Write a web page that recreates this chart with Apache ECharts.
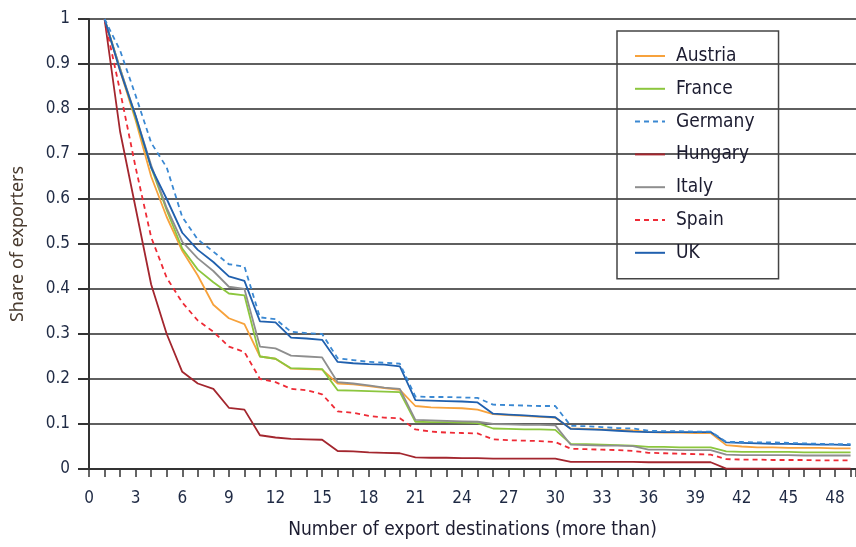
<!DOCTYPE html>
<html>
<head>
<meta charset="utf-8">
<script src="https://cdn.jsdelivr.net/npm/echarts@6/dist/echarts.min.js"></script>
<style>
  html, body { margin: 0; padding: 0; background: #fff; }
  #main { width: 856px; height: 547px; }
</style>
</head>
<body>
<div id="main"></div>
<script>
    // number of export destinations (more than)
    var destinations = [1, 2, 3, 4, 5, 6, 7, 8, 9, 10, 11, 12, 13, 14, 15, 16, 17, 18, 19, 20,
        21, 22, 23, 24, 25, 26, 27, 28, 29, 30, 31, 32, 33, 34, 35, 36, 37, 38, 39, 40,
        41, 42, 43, 44, 45, 46, 47, 48, 49];

    // share of exporters
    var austria = [1, 0.885, 0.775, 0.65, 0.56, 0.485, 0.43, 0.365, 0.335, 0.322,
        0.25, 0.245, 0.223, 0.222, 0.221, 0.19, 0.188, 0.184, 0.18, 0.176,
        0.14, 0.137, 0.136, 0.135, 0.132, 0.122, 0.12, 0.118, 0.116, 0.114,
        0.09, 0.089, 0.088, 0.087, 0.086, 0.082, 0.081, 0.081, 0.08, 0.08,
        0.053, 0.05, 0.048, 0.048, 0.047, 0.047, 0.047, 0.046, 0.046];
    var france = [1, 0.89, 0.78, 0.67, 0.575, 0.49, 0.443, 0.415, 0.39, 0.386,
        0.25, 0.245, 0.224, 0.223, 0.222, 0.175, 0.174, 0.173, 0.172, 0.171,
        0.105, 0.104, 0.104, 0.103, 0.102, 0.09, 0.089, 0.088, 0.088, 0.087,
        0.056, 0.055, 0.054, 0.053, 0.052, 0.049, 0.049, 0.048, 0.048, 0.048,
        0.039, 0.038, 0.038, 0.038, 0.038, 0.037, 0.037, 0.037, 0.037];
    var germany = [1, 0.93, 0.83, 0.725, 0.67, 0.56, 0.51, 0.483, 0.455, 0.45,
        0.337, 0.333, 0.305, 0.302, 0.3, 0.246, 0.242, 0.238, 0.236, 0.234,
        0.161, 0.16, 0.16, 0.159, 0.158, 0.143, 0.142, 0.141, 0.14, 0.14,
        0.096, 0.095, 0.093, 0.091, 0.09, 0.085, 0.084, 0.084, 0.083, 0.083,
        0.06, 0.06, 0.059, 0.059, 0.058, 0.057, 0.056, 0.055, 0.055];
    var hungary = [1, 0.75, 0.58, 0.41, 0.3, 0.216, 0.19, 0.178, 0.136, 0.132,
        0.075, 0.07, 0.067, 0.066, 0.065, 0.04, 0.039, 0.037, 0.036, 0.035,
        0.026, 0.025, 0.025, 0.024, 0.024, 0.023, 0.023, 0.023, 0.023, 0.023,
        0.016, 0.016, 0.016, 0.016, 0.016, 0.015, 0.015, 0.015, 0.015, 0.015,
        0.001, 0.001, 0.001, 0.001, 0.001, 0.001, 0.001, 0.001, 0.001];
    var italy = [1, 0.89, 0.785, 0.675, 0.58, 0.505, 0.468, 0.44, 0.405, 0.4,
        0.272, 0.268, 0.252, 0.25, 0.248, 0.193, 0.19, 0.186, 0.181, 0.178,
        0.109, 0.108, 0.107, 0.106, 0.105, 0.1, 0.099, 0.098, 0.098, 0.097,
        0.054, 0.053, 0.052, 0.052, 0.051, 0.043, 0.043, 0.042, 0.042, 0.042,
        0.032, 0.031, 0.031, 0.031, 0.031, 0.03, 0.03, 0.03, 0.03];
    var spain = [1, 0.84, 0.67, 0.515, 0.425, 0.37, 0.33, 0.305, 0.272, 0.26,
        0.2, 0.193, 0.178, 0.175, 0.166, 0.128, 0.125, 0.118, 0.114, 0.113,
        0.088, 0.083, 0.081, 0.08, 0.079, 0.066, 0.064, 0.063, 0.062, 0.06,
        0.045, 0.044, 0.043, 0.042, 0.04, 0.036, 0.035, 0.034, 0.033, 0.032,
        0.022, 0.021, 0.021, 0.02, 0.02, 0.02, 0.019, 0.019, 0.019];
    var uk = [1, 0.885, 0.785, 0.67, 0.6, 0.525, 0.487, 0.46, 0.428, 0.418,
        0.328, 0.326, 0.292, 0.29, 0.287, 0.238, 0.235, 0.233, 0.232, 0.228,
        0.153, 0.152, 0.151, 0.15, 0.148, 0.123, 0.121, 0.119, 0.117, 0.115,
        0.089, 0.088, 0.087, 0.085, 0.083, 0.082, 0.082, 0.082, 0.082, 0.082,
        0.059, 0.058, 0.057, 0.056, 0.056, 0.055, 0.054, 0.054, 0.053];

    var countries = ['Austria', 'France', 'Germany', 'Hungary', 'Italy', 'Spain', 'UK'];

    var fontCond = "'DejaVu Sans Condensed', 'Liberation Sans Narrow', sans-serif";

    function pairs(vals) {
        return destinations.map(function (d, i) { return [d, vals[i]]; });
    }

    function line(name, vals, color, dashed) {
        return {
            name: name,
            type: 'line',
            symbol: 'none',
            data: pairs(vals),
            lineStyle: { color: color, width: 1.8, type: dashed ? [5, 4] : 'solid' },
            itemStyle: { color: color },
            emphasis: { disabled: true }
        };
    }

    var myChart = echarts.init(document.getElementById('main'));
    var option = {
        animation: false,
        grid: { left: 89, right: 0, top: 19, bottom: 78, containLabel: false },
        legend: {
            orient: 'vertical',
            left: 617,
            top: 31,
            data: countries,
            itemWidth: 30,
            itemHeight: 20,
            itemGap: 12.8,
            padding: [15, 24, 16, 17],
            borderColor: '#444',
            borderWidth: 1.5,
            itemStyle: { opacity: 0 },
            textStyle: { fontFamily: fontCond, fontSize: 19, color: '#1c1c30', lineHeight: 20, padding: [0, 0, 0, 6] }
        },
        xAxis: {
            type: 'value',
            min: 0,
            max: 49.35,
            interval: 3,
            name: 'Number of export destinations (more than)',
            nameLocation: 'middle',
            nameGap: 52,
            nameTextStyle: { fontFamily: fontCond, fontSize: 19, color: '#1c1c30' },
            axisLine: { onZero: false, lineStyle: { color: '#333', width: 2 } },
            axisTick: { show: true, length: 8, lineStyle: { color: '#333', width: 1.5 } },
            minorTick: { show: true, splitNumber: 3, length: 8, lineStyle: { color: '#333', width: 1.5 } },
            splitLine: { show: false },
            axisLabel: { fontFamily: fontCond, fontSize: 17, color: '#1f2a44', margin: 21, showMaxLabel: false }
        },
        yAxis: {
            type: 'value',
            min: 0,
            max: 1,
            interval: 0.1,
            name: 'Share of exporters',
            nameLocation: 'middle',
            nameGap: 62,
            nameTextStyle: { fontFamily: 'Noto Sans, sans-serif', fontSize: 18, color: '#4a3c30' },
            axisLine: { show: true, lineStyle: { color: '#333', width: 2 } },
            axisTick: { show: true, length: 11, lineStyle: { color: '#333', width: 2 } },
            splitLine: { lineStyle: { color: '#2a2a2a', width: 1.6 } },
            axisLabel: { fontFamily: fontCond, fontSize: 17, color: '#1f2a44', margin: 19 }
        },
        series: [
            line('Austria', austria, '#f7a23c', false),
            line('France', france, '#8cc63e', false),
            line('Hungary', hungary, '#a3262e', false),
            line('Italy', italy, '#8e8e8e', false),
            line('Spain', spain, '#ee2b36', true),
            line('UK', uk, '#2060ae', false),
            line('Germany', germany, '#3a88d2', true)
        ]
    };
    myChart.setOption(option);
</script>
</body>
</html>
